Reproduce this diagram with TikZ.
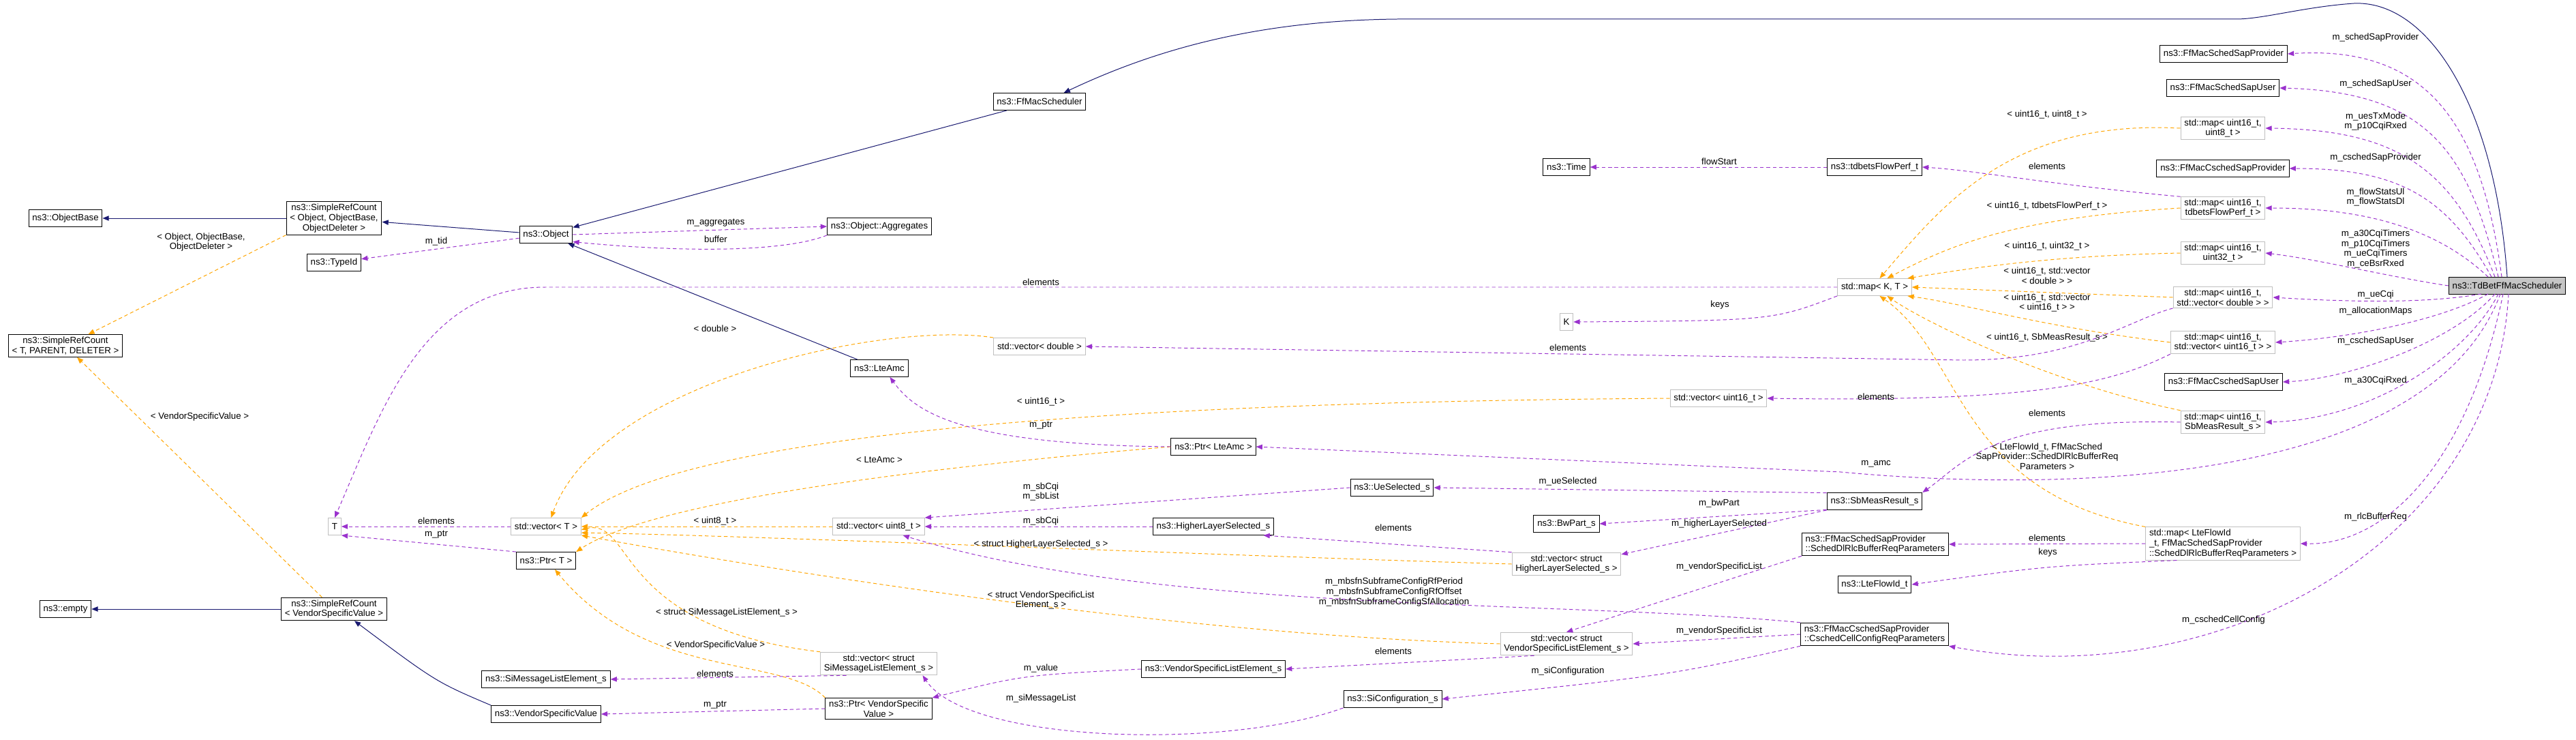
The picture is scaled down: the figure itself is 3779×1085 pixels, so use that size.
\documentclass[tikz,border=0pt]{standalone}
\usepackage{fontspec}
\setmainfont{Liberation Sans}
\usetikzlibrary{arrows.meta}
\definecolor{inhblue}{HTML}{191970}
\definecolor{membr}{HTML}{9A32CD}
\definecolor{tmplor}{HTML}{FFA500}
\definecolor{tplgray}{HTML}{BFBFBF}
\tikzset{
  cls/.style={draw=black, line width=0.75pt, fill=white, minimum height=0.66cm,
    inner xsep=4pt, inner ysep=2.5pt, align=center, font=\fontsize{10}{11}\selectfont},
  tpl/.style={cls, draw=tplgray},
  mainbox/.style={cls, fill=tplgray!90},
  lbl/.style={font=\fontsize{10}{11}\selectfont, align=center, inner sep=0pt},
  tip/.style={-{Triangle[length=7pt,width=5.5pt]}},
  inh/.style={tip, draw=inhblue, line width=0.75pt},
  mem/.style={tip, draw=membr, line width=0.75pt, dash pattern=on 4pt off 3pt},
  tmp/.style={tip, draw=tmplor, line width=0.75pt, dash pattern=on 4pt off 3pt}
}
\begin{document}
\begin{tikzpicture}[x=0.0265cm, y=-0.0265cm]
  \useasboundingbox (0,0) rectangle (3779,1085);

  % left column
  \node[cls] (ob) at (96,320) {ns3::ObjectBase};
  \node[cls] (src) at (490,320) {ns3::SimpleRefCount\\< Object, ObjectBase,\\ObjectDeleter >};
  \node[cls] (obj) at (801,344) {ns3::Object};
  \node[cls] (tid) at (490,385) {ns3::TypeId};
  \node[cls] (srt) at (96,507) {ns3::SimpleRefCount\\< T, PARENT, DELETER >};
  \node[tpl] (t) at (491,772) {T};
  \node[tpl] (vt) at (801,772) {std::vector< T >};
  \node[cls] (ptrt) at (801,822) {ns3::Ptr< T >};
  \node[cls] (srv) at (490,893) {ns3::SimpleRefCount\\< VendorSpecificValue >};
  \node[cls] (emp) at (96,893) {ns3::empty};
  \node[cls] (siml) at (801,996) {ns3::SiMessageListElement\_s};
  \node[cls] (vsv) at (801,1047) {ns3::VendorSpecificValue};

  % middle
  \node[cls] (fms) at (1525,149) {ns3::FfMacScheduler};
  \node[cls] (agg) at (1290,332) {ns3::Object::Aggregates};
  \node[tpl] (vdbl) at (1525,508) {std::vector< double >};
  \node[cls] (amc) at (1290,540) {ns3::LteAmc};
  \node[cls] (ptrlte) at (1780,655) {ns3::Ptr< LteAmc >};
  \node[tpl] (vu8) at (1289,772) {std::vector< uint8\_t >};
  \node[cls] (hls) at (1780,772) {ns3::HigherLayerSelected\_s};
  \node[cls] (uesel) at (2042,715) {ns3::UeSelected\_s};
  \node[tpl] (vsiml) at (1289,973) {std::vector< struct\\SiMessageListElement\_s >};
  \node[cls] (ptrvsv) at (1289,1039) {ns3::Ptr< VendorSpecific\\Value >};
  \node[cls] (vsle) at (1780,981) {ns3::VendorSpecificListElement\_s};
  \node[cls] (siconf) at (2043,1025) {ns3::SiConfiguration\_s};
  \node[cls] (time) at (2298,245) {ns3::Time};
  \node[cls] (tdf) at (2750,245) {ns3::tdbetsFlowPerf\_t};
  \node[tpl] (mapkt) at (2750,421) {std::map< K, T >};
  \node[tpl] (k) at (2298,472) {K};
  \node[tpl] (vu16) at (2521,584) {std::vector< uint16\_t >};
  \node[cls] (sbm) at (2750,735) {ns3::SbMeasResult\_s};
  \node[cls] (bwp) at (2298,768) {ns3::BwPart\_s};
  \node[tpl] (vhls) at (2298,827) {std::vector< struct\\HigherLayerSelected\_s >};
  \node[cls, align=left] (dlpar) at (2751,798) {ns3::FfMacSchedSapProvider\\::SchedDlRlcBufferReqParameters};
  \node[cls] (fid) at (2750,857) {ns3::LteFlowId\_t};
  \node[tpl] (vvsle) at (2298,944) {std::vector< struct\\VendorSpecificListElement\_s >};
  \node[cls, align=left] (ccc) at (2750,930) {ns3::FfMacCschedSapProvider\\::CschedCellConfigReqParameters};

  % right column
  \node[cls] (sapp) at (3262,79) {ns3::FfMacSchedSapProvider};
  \node[cls] (sapu) at (3261,129) {ns3::FfMacSchedSapUser};
  \node[tpl] (mu8) at (3261,188) {std::map< uint16\_t,\\uint8\_t >};
  \node[cls] (csp) at (3261,247) {ns3::FfMacCschedSapProvider};
  \node[tpl] (mflow) at (3261,305) {std::map< uint16\_t,\\tdbetsFlowPerf\_t >};
  \node[tpl] (mu32) at (3261,371) {std::map< uint16\_t,\\uint32\_t >};
  \node[tpl] (mdbl) at (3261,436) {std::map< uint16\_t,\\std::vector< double > >};
  \node[tpl] (mu16) at (3261,502) {std::map< uint16\_t,\\std::vector< uint16\_t > >};
  \node[cls] (csu) at (3262,560) {ns3::FfMacCschedSapUser};
  \node[tpl] (msb) at (3261,619) {std::map< uint16\_t,\\SbMeasResult\_s >};
  \node[tpl, align=left] (mfl) at (3261,797) {std::map< LteFlowId\\\_t, FfMacSchedSapProvider\\::SchedDlRlcBufferReqParameters >};
  \node[mainbox] (td) at (3678,419) {ns3::TdBetFfMacScheduler};

  % inheritance
  \draw[inh] (src) -- (ob);
  \draw[inh] (obj) -- (src);
  \draw[inh] (fms) -- (obj);
  \draw[inh] (amc) -- (obj);
  \draw[inh] (srv) -- (emp);
  \draw[inh] (vsv.north west) .. controls (640,1000) .. (srv.-30);
  \draw[inh] (td.north) .. controls (3660,150) and (3560,0) .. (3453,5)
    .. controls (3380,10) and (3320,28) .. (3280,28) -- (2050,28)
    .. controls (1850,30) and (1700,70) .. (fms.20);

  % template instances
  \draw[tmp] (src.south west) -- (srt) node[lbl] at (295,355) {< Object, ObjectBase,\\ObjectDeleter >};
  \draw[tmp] (srv) -- (srt) node[lbl] at (293,611) {< VendorSpecificValue >};
  \draw[tmp] (vdbl.north west) .. controls (1300,470) and (880,560) .. (vt.60) node[lbl] at (1049,482) {< double >};
  \draw[tmp] (vu16.west) .. controls (1600,590) and (1000,640) .. (vt.north east) node[lbl] at (1527,589) {< uint16\_t >};
  \draw[tmp] (vu8) -- (vt) node[lbl] at (1049,764) {< uint8\_t >};
  \draw[tmp] (vhls.west) .. controls (1800,815) and (1100,785) .. (vt.-10) node[lbl] at (1527,798) {< struct HigherLayerSelected\_s >};
  \draw[tmp] (vvsle.west) .. controls (1700,930) and (1100,830) .. (vt.south east) node[lbl] at (1527,880) {< struct VendorSpecificList\\Element\_s >};
  \draw[tmp] (vsiml.north west) .. controls (900,920) and (930,760) .. (vt.-5) node[lbl] at (1066,898) {< struct SiMessageListElement\_s >};
  \draw[tmp] (ptrlte.west) .. controls (1300,690) and (950,740) .. (ptrt.north east) node[lbl] at (1290,674) {< LteAmc >};
  \draw[tmp] (ptrvsv.north west) .. controls (1150,960) and (950,1000) .. (ptrt.-45) node[lbl] at (1050,946) {< VendorSpecificValue >};
  \draw[tmp] (mu8.west) .. controls (2950,175) and (2850,300) .. (mapkt.60) node[lbl] at (3003,168) {< uint16\_t, uint8\_t >};
  \draw[tmp] (mflow.west) .. controls (2950,320) and (2860,360) .. (mapkt.35) node[lbl] at (3003,302) {< uint16\_t, tdbetsFlowPerf\_t >};
  \draw[tmp] (mu32.west) .. controls (3000,375) and (2880,395) .. (mapkt.15) node[lbl] at (3003,361) {< uint16\_t, uint32\_t >};
  \draw[tmp] (mdbl.west) -- (mapkt.east) node[lbl] at (3003,404) {< uint16\_t, std::vector\\< double > >};
  \draw[tmp] (mu16.west) .. controls (3000,480) and (2880,445) .. (mapkt.-15) node[lbl] at (3003,444) {< uint16\_t, std::vector\\< uint16\_t > >};
  \draw[tmp] (msb.north west) .. controls (3000,560) and (2820,470) .. (mapkt.-35) node[lbl] at (3003,495) {< uint16\_t, SbMeasResult\_s >};
  \draw[tmp] (mfl.north west) .. controls (2870,720) and (2880,520) .. (mapkt.-60) node[lbl] at (3003,669) {< LteFlowId\_t, FfMacSched\\SapProvider::SchedDlRlcBufferReq\\Parameters >};

  % members
  \draw[mem] (obj) -- (tid) node[lbl] at (640,354) {m\_tid};
  \draw[mem] (obj.east) -- (agg.west) node[lbl] at (1050,327) {m\_aggregates};
  \draw[mem] (agg.south west) .. controls (1150,370) and (1000,370) .. (obj.-15) node[lbl] at (1050,351) {buffer};
  \draw[mem] (mapkt.west) -- (800,421) .. controls (620,421) and (560,600) .. (t.north) node[lbl] at (1527,414) {elements};
  \draw[mem] (mapkt.south west) .. controls (2600,470) .. (k.east) node[lbl] at (2523,447) {keys};
  \draw[mem] (vt) -- (t) node[lbl] at (640,764) {elements};
  \draw[mem] (ptrt.north west) -- (t.south east) node[lbl] at (640,784) {m\_ptr};
  \draw[mem] (ptrlte.west) .. controls (1400,652) and (1340,600) .. (amc.-40) node[lbl] at (1527,624) {m\_ptr};
  \draw[mem] (tdf) -- (time) node[lbl] at (2522,237) {flowStart};
  \draw[mem] (mflow.165) .. controls (3000,270) and (2900,250) .. (tdf.east) node[lbl] at (3003,244) {elements};
  \draw[mem] (mdbl.south west) .. controls (3120,470) and (3050,528) .. (2880,528) -- (vdbl.east) node[lbl] at (2300,510) {elements};
  \draw[mem] (mu16.south west) .. controls (3100,560) and (3000,590) .. (vu16.east) node[lbl] at (2752,582) {elements};
  \draw[mem] (msb.west) .. controls (2920,612) and (2880,680) .. (sbm.north east) node[lbl] at (3003,606) {elements};
  \draw[mem] (mfl.west) -- (dlpar.east) node[lbl] at (3003,789) {elements};
  \draw[mem] (mfl.200) .. controls (3000,830) .. (fid.east) node[lbl] at (3004,810) {keys};
  \draw[mem] (sbm.170) -- (uesel.east) node[lbl] at (2300,706) {m\_ueSelected};
  \draw[mem] (sbm.190) -- (bwp.east) node[lbl] at (2522,738) {m\_bwPart};
  \draw[mem] (sbm.south west) -- (vhls.10) node[lbl] at (2522,768) {m\_higherLayerSelected};
  \draw[mem] (uesel.west) -- (vu8.north east) node[lbl] at (1527,721) {m\_sbCqi\\m\_sbList};
  \draw[mem] (hls) -- (vu8) node[lbl] at (1527,764) {m\_sbCqi};
  \draw[mem] (vhls.north west) -- (hls.-10) node[lbl] at (2044,774) {elements};
  \draw[mem] (dlpar.south west) -- (vvsle.north) node[lbl] at (2522,831) {m\_vendorSpecificList};
  \draw[mem] (ccc.west) -- (vvsle.east) node[lbl] at (2522,925) {m\_vendorSpecificList};
  \draw[mem] (ccc.north west) .. controls (2300,880) and (1700,900) .. (vu8.-20) node[lbl] at (2045,868) {m\_mbsfnSubframeConfigRfPeriod\\m\_mbsfnSubframeConfigRfOffset\\m\_mbsfnSubframeConfigSfAllocation};
  \draw[mem] (ccc.south west) .. controls (2450,990) .. (siconf.east) node[lbl] at (2300,984) {m\_siConfiguration};
  \draw[mem] (vvsle.200) -- (vsle.east) node[lbl] at (2044,955) {elements};
  \draw[mem] (vsle.west) .. controls (1500,990) .. (ptrvsv.north east) node[lbl] at (1527,980) {m\_value};
  \draw[mem] (ptrvsv.west) -- (vsv.east) node[lbl] at (1049,1034) {m\_ptr};
  \draw[mem] (vsiml.200) -- (siml.east) node[lbl] at (1049,988) {elements};
  \draw[mem] (siconf.south west) .. controls (1800,1100) and (1420,1090) .. (vsiml.-15) node[lbl] at (1527,1024) {m\_siMessageList};

  % members of the scheduler
  \draw[mem] (3670,406) .. controls (3640,180) and (3560,66) .. (sapp.east) node[lbl] at (3485,55) {m\_schedSapProvider};
  \draw[mem] (3665,406) .. controls (3620,220) and (3560,135) .. (sapu.east) node[lbl] at (3485,123) {m\_schedSapUser};
  \draw[mem] (3660,406) .. controls (3600,250) and (3520,190) .. (mu8.east) node[lbl] at (3485,178) {m\_uesTxMode\\m\_p10CqiRxed};
  \draw[mem] (3655,406) .. controls (3590,290) and (3520,247) .. (csp.east) node[lbl] at (3485,231) {m\_cschedSapProvider};
  \draw[mem] (3650,406) .. controls (3580,340) and (3480,305) .. (mflow.east) node[lbl] at (3485,289) {m\_flowStatsUl\\m\_flowStatsDl};
  \draw[mem] (td.west) .. controls (3500,405) and (3400,380) .. (mu32.east) node[lbl] at (3485,365) {m\_a30CqiTimers\\m\_p10CqiTimers\\m\_ueCqiTimers\\m\_ceBsrRxed};
  \draw[mem] (3640,431) .. controls (3560,445) and (3450,443) .. (mdbl.east) node[lbl] at (3485,432) {m\_ueCqi};
  \draw[mem] (3650,431) .. controls (3580,470) and (3450,495) .. (mu16.east) node[lbl] at (3485,456) {m\_allocationMaps};
  \draw[mem] (3660,431) .. controls (3600,500) and (3450,555) .. (csu.east) node[lbl] at (3485,500) {m\_cschedSapUser};
  \draw[mem] (3665,431) .. controls (3620,520) and (3480,615) .. (msb.east) node[lbl] at (3485,558) {m\_a30CqiRxed};
  \draw[mem] (3672,431) .. controls (3620,680) and (3500,800) .. (mfl.east) node[lbl] at (3485,758) {m\_rlcBufferReq};
  \draw[mem] (3680,431) .. controls (3660,800) and (3250,1020) .. (ccc.south east) node[lbl] at (3262,909) {m\_cschedCellConfig};
  \draw[mem] (3668,431) .. controls (3560,720) and (3000,720) .. (2700,692) -- (ptrlte.east) node[lbl] at (2752,680) {m\_amc};
\end{tikzpicture}
\end{document}
